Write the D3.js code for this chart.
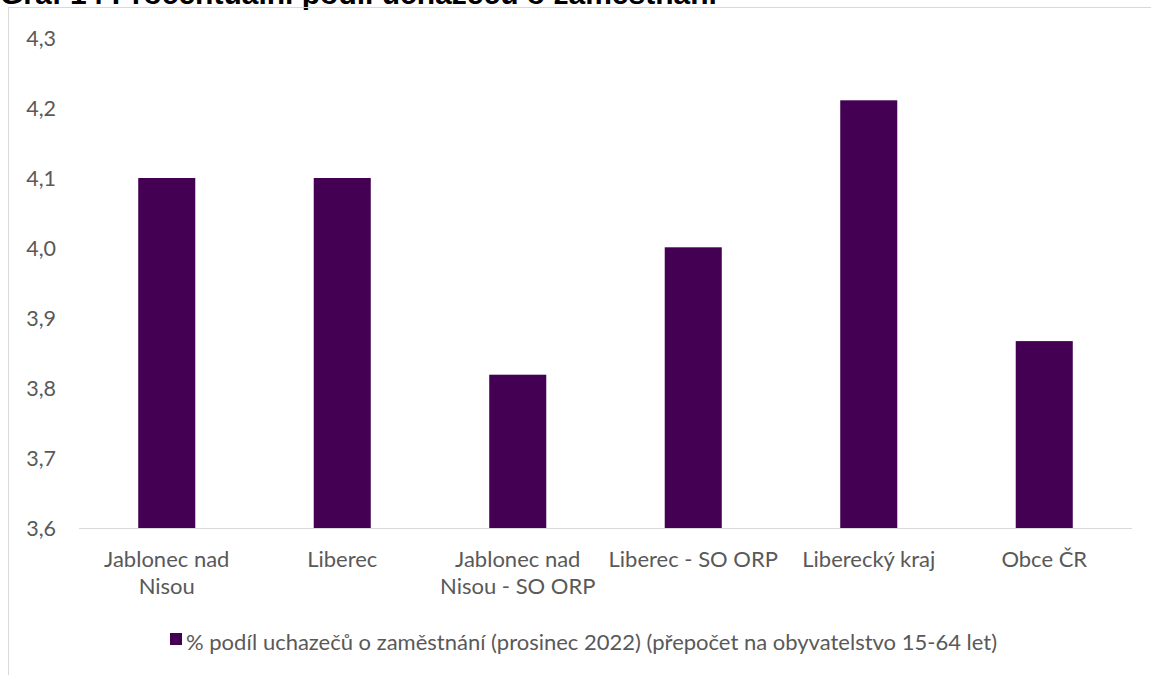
<!DOCTYPE html>
<html><head><meta charset="utf-8">
<script src="https://cdn.jsdelivr.net/npm/d3@7"></script>
<style>body{margin:0;background:#fff}svg{display:block}</style>
</head><body>
<script>
const categories = [["Jablonec nad","Nisou"],["Liberec"],["Jablonec nad","Nisou - SO ORP"],["Liberec - SO ORP"],["Liberecký kraj"],["Obce ČR"]];
const values = [4.10, 4.10, 3.819, 4.001, 4.211, 3.867];
const yTicks = [3.6, 3.7, 3.8, 3.9, 4.0, 4.1, 4.2, 4.3];
const seriesName = "% podíl uchazečů o zaměstnání (prosinec 2022) (přepočet na obyvatelstvo 15-64 let)";
const title = "Graf 14 Procentuální podíl uchazečů o zaměstnání";

const W = 1151, H = 675;
const svg = d3.select("body").append("svg").attr("width", W).attr("height", H);
const font = "Lato, Carlito, Calibri, sans-serif";
const textCol = "#595959";
const barCol = "#440154";

// title (clipped at top, as in the reference)
svg.append("text").attr("x", 0).attr("y", 4)
  .attr("font-family", "Liberation Sans, Arial, sans-serif").attr("font-weight", "bold")
  .attr("font-size", 30).attr("fill", "#000").text(title);

// frame
svg.append("path").attr("d", `M8.5,${H} L8.5,7.5 L${W},7.5`).attr("fill", "none")
  .attr("stroke", "#d9d9d9").attr("stroke-width", 1);

const x = d3.scaleBand().domain(d3.range(categories.length)).range([79, 1132]).paddingInner(0.675).paddingOuter(0.3375);
const y = d3.scaleLinear().domain([3.6, 4.3]).range([528, 38]);

svg.append("g").selectAll("rect").data(values).join("rect")
  .attr("x", (d, i) => x(i)).attr("width", x.bandwidth())
  .attr("y", d => y(d)).attr("height", d => y(3.6) - y(d)).attr("fill", barCol);

// x axis line
svg.append("line").attr("x1", 79).attr("x2", 1132).attr("y1", y(3.6) + 0.5).attr("y2", y(3.6) + 0.5)
  .attr("stroke", "#d9d9d9").attr("stroke-width", 1);

// y labels
const fmt = d => d3.format(".1f")(d).replace(".", ",");
svg.append("g").selectAll("text").data(yTicks).join("text")
  .attr("x", 56).attr("y", d => y(d)).attr("dy", "0.35em").attr("text-anchor", "end")
  .attr("font-family", font).attr("font-size", 21.5).attr("fill", textCol).text(fmt);

// x labels
const xl = svg.append("g").selectAll("text").data(categories).join("text")
  .attr("text-anchor", "middle").attr("font-family", font).attr("font-size", 22).attr("fill", textCol)
  .attr("transform", (d, i) => `translate(${x(i) + x.bandwidth() / 2},567)`);
xl.selectAll("tspan").data(d => d).join("tspan").attr("x", 0).attr("dy", (d, j) => j ? 27 : 0).text(d => d);

// legend
svg.append("rect").attr("x", 170).attr("y", 633).attr("width", 12).attr("height", 12).attr("fill", barCol);
svg.append("text").attr("x", 186).attr("y", 650).attr("font-family", font).attr("font-size", 22)
  .attr("fill", textCol).text(seriesName);
</script>
</body></html>
